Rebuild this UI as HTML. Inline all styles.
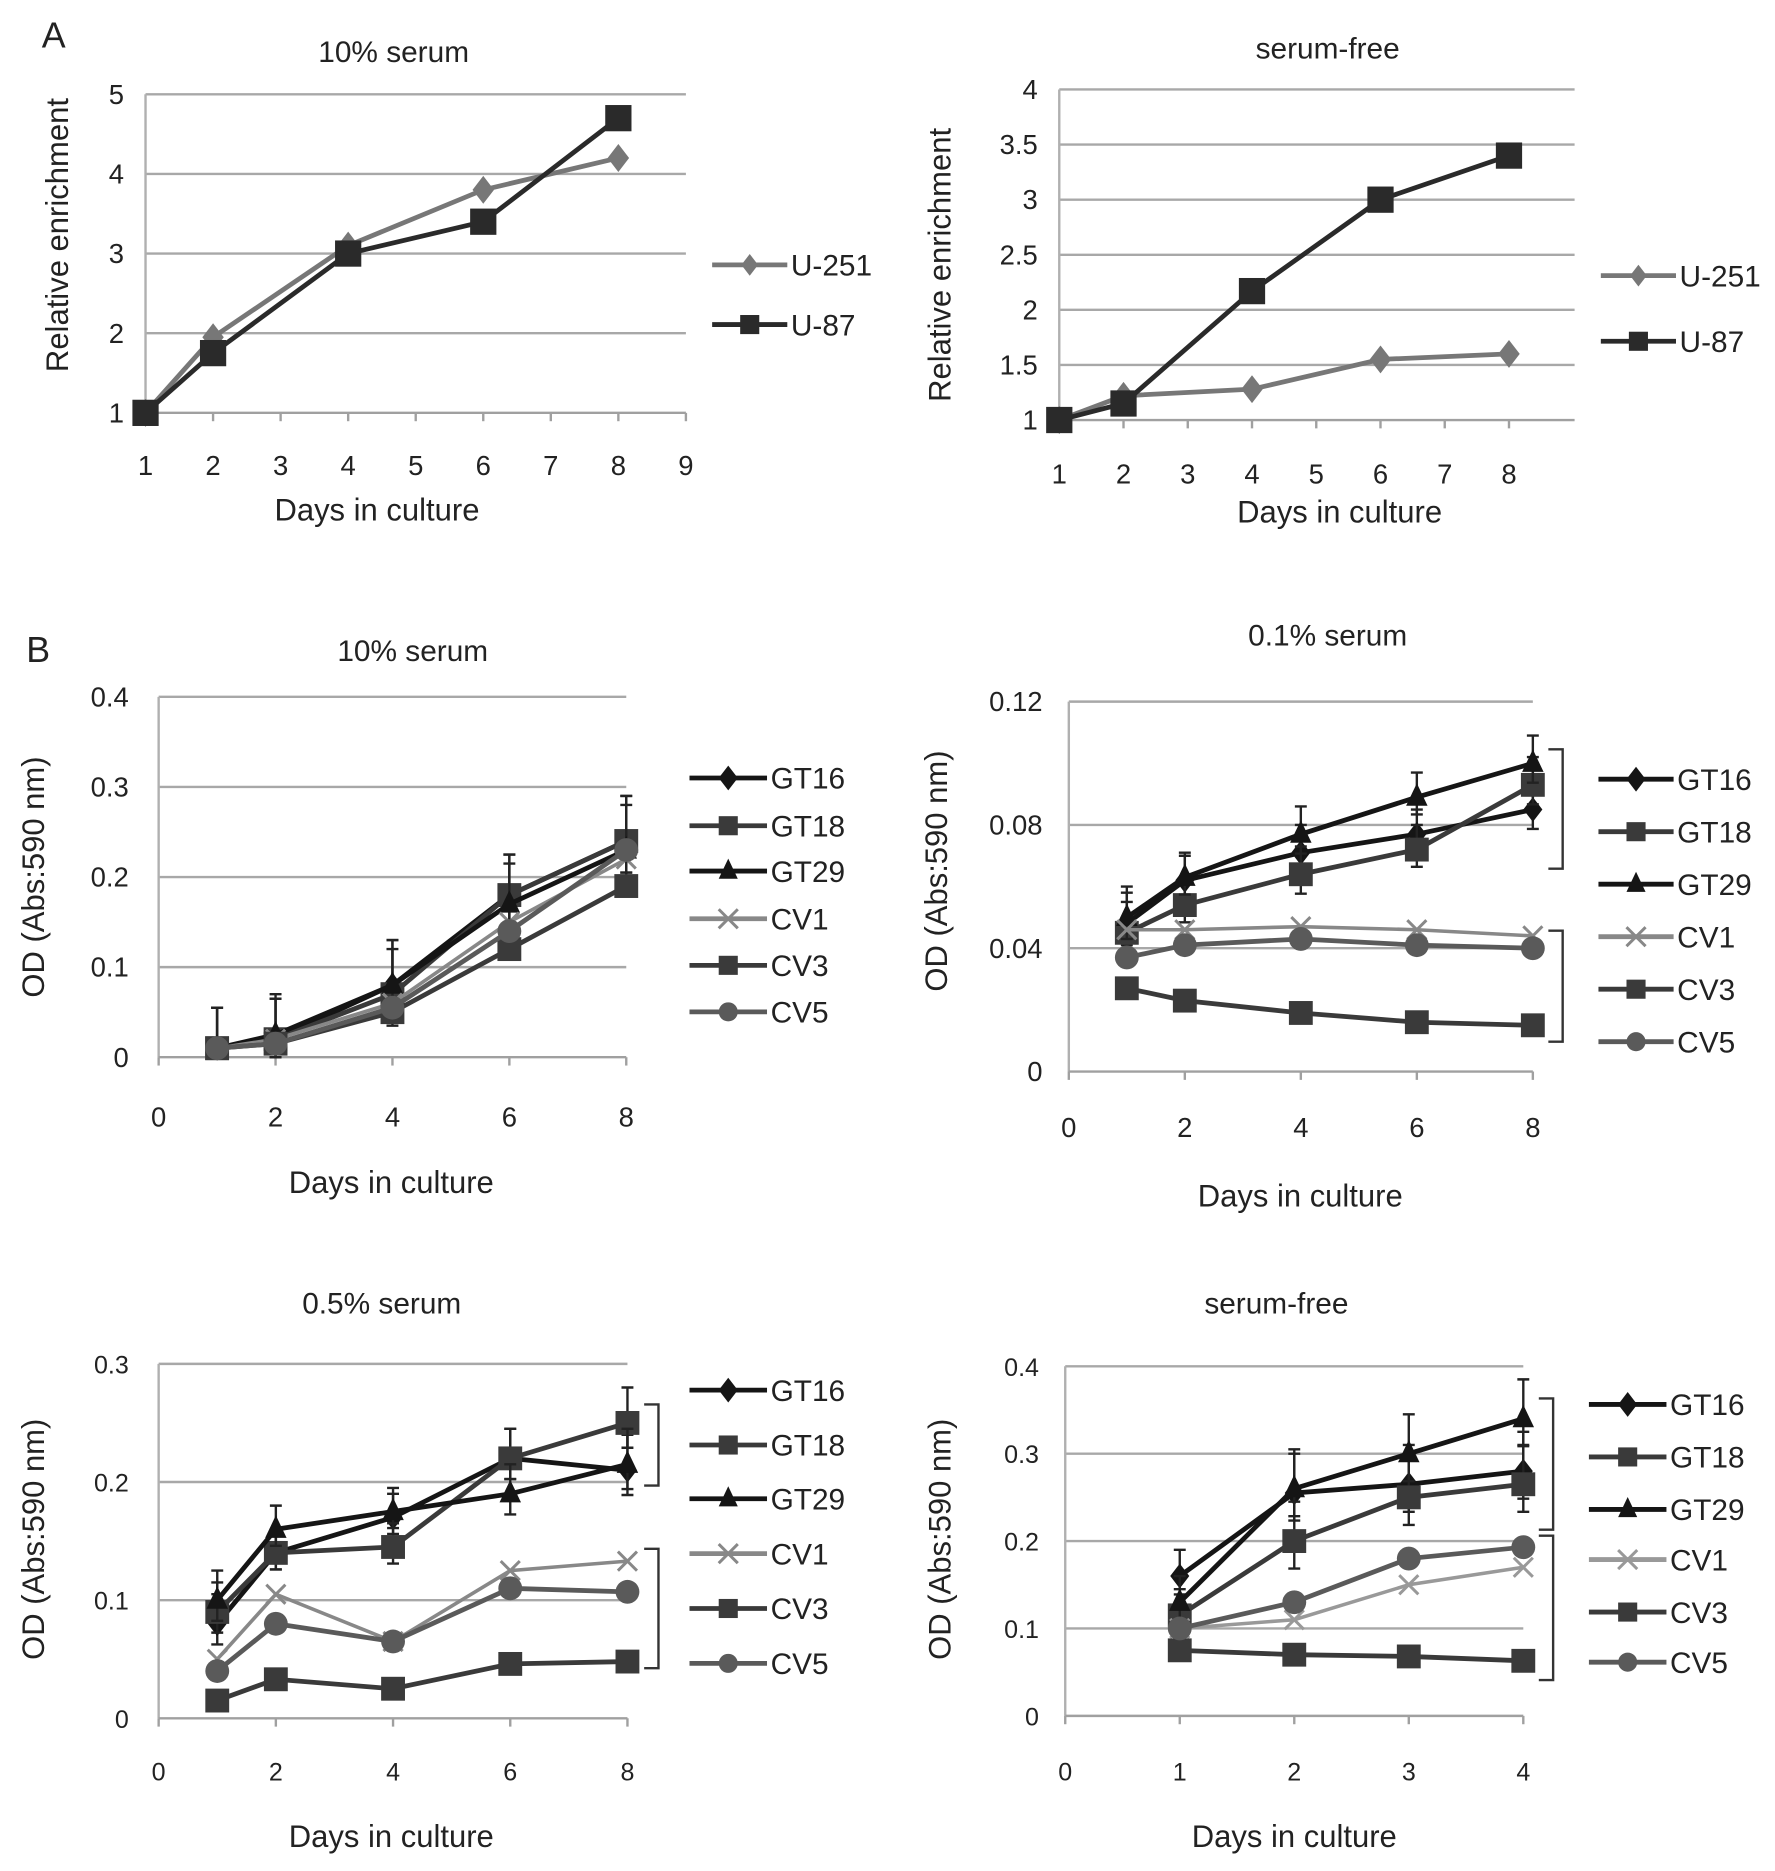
<!DOCTYPE html>
<html><head><meta charset="utf-8"><style>
html,body{margin:0;padding:0;background:#fff}
svg{display:block}
text{font-family:"Liberation Sans",sans-serif;fill:#222}
</style></head><body>
<svg id="fig" width="1775" height="1871" viewBox="0 0 1488 1568" preserveAspectRatio="none" xmlns="http://www.w3.org/2000/svg">
<text x="35" y="40" font-size="30">A</text>
<text x="22" y="555" font-size="30">B</text>
</svg>
<script>
// ---- data ----
const daysA = [1,2,4,6,8];
const a1_U251 = [1,1.95,3.1,3.8,4.2];
const a1_U87 = [1,1.75,3.0,3.4,4.7];
const a2_U251 = [1,1.22,1.28,1.55,1.6];
const a2_U87 = [1,1.15,2.17,3.0,3.4];
const daysB = [1,2,4,6,8];
const b1_GT16=[.01,.02,.08,.18,.24], b1_GT18=[.01,.02,.07,.18,.24], b1_GT29=[.01,.025,.08,.17,.23];
const b1_CV1=[.01,.02,.06,.15,.22], b1_CV3=[.01,.015,.05,.12,.19], b1_CV5=[.01,.015,.055,.14,.23];
const b1_err=[.045,.045,.05,.045,.05];
const b2_GT16=[.048,.062,.071,.077,.085], b2_GT18=[.045,.054,.064,.072,.093], b2_GT29=[.05,.063,.077,.089,.1];
const b2_CV1=[.046,.046,.047,.046,.044], b2_CV3=[.027,.023,.019,.016,.015], b2_CV5=[.037,.041,.043,.041,.04];
const b2_err=[.01,.008,.009,.008,.009];
const b3_GT16=[.08,.14,.17,.22,.21], b3_GT18=[.09,.14,.145,.22,.25], b3_GT29=[.1,.16,.175,.19,.215];
const b3_CV1=[.05,.105,.065,.125,.133], b3_CV3=[.015,.033,.025,.046,.048], b3_CV5=[.04,.08,.065,.11,.107];
const b3_err=[.025,.02,.02,.025,.03];
const daysB4=[1,2,3,4];
const b4_GT16=[.16,.255,.265,.28], b4_GT18=[.115,.2,.25,.265], b4_GT29=[.13,.26,.3,.34];
const b4_CV1=[.1,.11,.15,.17], b4_CV3=[.075,.07,.068,.063], b4_CV5=[.1,.13,.18,.193];
const b4_err=[.03,.045,.045,.045];
const ticksA1y=[1,2,3,4,5], ticksA1x=[1,2,3,4,5,6,7,8,9];
const ticksA2y=[1,1.5,2,2.5,3,3.5,4], ticksA2x=[1,2,3,4,5,6,7,8];
const ticksB1y=[0,0.1,0.2,0.3,0.4], ticksB2y=[0,0.04,0.08,0.12], ticksB3y=[0,0.1,0.2,0.3], ticksB4y=[0,0.1,0.2,0.3,0.4];
const ticksBx=[0,2,4,6,8], ticksB4x=[0,1,2,3,4];

const svg=document.getElementById('fig');
const NS='http://www.w3.org/2000/svg';
function mk(tag,at,txt){const e=document.createElementNS(NS,tag);for(const k in at)e.setAttribute(k,at[k]);if(txt!==undefined)e.textContent=txt;svg.appendChild(e);return e;}

function marker(shape,x,y,s,col,name){
  let e;
  if(shape==='sq'){e=mk('rect',{x:x-s,y:y-s,width:2*s,height:2*s,fill:col});}
  else if(shape==='di'){e=mk('polygon',{points:`${x},${y-s*1.3} ${x+s},${y} ${x},${y+s*1.3} ${x-s},${y}`,fill:col});}
  else if(shape==='tr'){e=mk('polygon',{points:`${x},${y-s*1.3} ${x+s},${y+s*0.8} ${x-s},${y+s*0.8}`,fill:col});}
  else if(shape==='ci'){e=mk('circle',{cx:x,cy:y,r:s,fill:col});}
  else {e=mk('path',{d:`M${x-s} ${y-s}L${x+s} ${y+s}M${x-s} ${y+s}L${x+s} ${y-s}`,stroke:col,'stroke-width':2.5,fill:'none'});}
  
  
}

function chart(c){
  const X=v=>c.x0+(v-c.xmin)/(c.xmax-c.xmin)*(c.x1-c.x0);
  const Y=v=>c.y0+(v-c.ymin)/(c.ymax-c.ymin)*(c.y1-c.y0);
  c.yt.forEach(v=>{
    if(v!==c.ymin){const g=mk('line',{x1:c.x0,x2:c.gx1,y1:Y(v),y2:Y(v),stroke:'#a8a8a8','stroke-width':2});
    }
    const t=mk('text',{x:c.x0-c.ylabOff,y:Y(v)+8,'font-size':c.fs,'text-anchor':'end'},String(v));
    
  });
  const ya=mk('line',{x1:c.x0,x2:c.x0,y1:Y(c.ymin),y2:Y(c.yt[c.yt.length-1]),stroke:'#b0b0b0','stroke-width':2});
  
  const xa=mk('line',{x1:c.x0,x2:c.gx1,y1:Y(c.ymin),y2:Y(c.ymin),stroke:'#a0a0a0','stroke-width':2});
  
  c.xt.forEach(v=>{
    const tk=mk('line',{x1:X(v),x2:X(v),y1:Y(c.ymin),y2:Y(c.ymin)+7,stroke:'#a0a0a0','stroke-width':2});
    
    const t=mk('text',{x:X(v),y:c.xlabY,'font-size':c.fs,'text-anchor':'middle'},String(v));
    
  });
  const ti=mk('text',{x:c.title[1],y:c.title[2],'font-size':25,'text-anchor':'middle'},c.title[0]);
  
  const xt=mk('text',{x:c.xtitle[0],y:c.xtitle[1],'font-size':26,'text-anchor':'middle'},'Days in culture');
  
  const yt=mk('text',{x:0,y:0,'font-size':26,'text-anchor':'middle',transform:`translate(${c.ytitle[1]},${c.ytitle[2]}) rotate(-90)`},c.ytitle[0]);
  
  c.series.forEach((s,i)=>{
    if(c.err && s.eb){
      s.v.forEach((v,j)=>{
        const e=mk('path',{d:`M${X(c.days[j])} ${Y(v)}V${Y(v+c.err[j])}M${X(c.days[j])-5} ${Y(v+c.err[j])}H${X(c.days[j])+5}M${X(c.days[j])} ${Y(v)}V${Y(Math.max(c.ymin,v-c.err[j]*0.7))}M${X(c.days[j])-5} ${Y(Math.max(c.ymin,v-c.err[j]*0.7))}H${X(c.days[j])+5}`,stroke:'#222','stroke-width':2,fill:'none'});
        
      });
    }
    const pts=s.v.map((v,j)=>X(c.days[j])+','+Y(v)).join(' ');
    const pl=mk('polyline',{points:pts,fill:'none',stroke:s.col,'stroke-width':s.w||4});
    
    s.v.forEach((v,j)=>marker(s.shape,X(c.days[j]),Y(v),s.ms,s.col,'point-'+s.name.toLowerCase()));
    const ly=c.leg.ys[i];
    const ll=mk('line',{x1:c.leg.x0,x2:c.leg.x1,y1:ly,y2:ly,stroke:s.col,'stroke-width':4});
    
    marker(s.shape,(c.leg.x0+c.leg.x1)/2,ly,s.lms||8,s.col,'legend-marker');
    const lt=mk('text',{x:c.leg.x1+3,y:ly+9,'font-size':25},s.name);
    
  });
  (c.brackets||[]).forEach(b=>{
    const p=mk('path',{d:`M${b[0]} ${b[1]}H${b[0]+12}V${b[2]}H${b[0]}`,fill:'none',stroke:'#333','stroke-width':2});
    
  });
}
const K='#151515',D='#3a3a3a',G='#5a5a5a',L='#888';
chart({x0:122,x1:575,gx1:575,xmin:1,xmax:9,y0:346,y1:79,ymin:1,ymax:5,yt:ticksA1y,xt:ticksA1x,ylabOff:18,xlabY:398,fs:23,
  title:['10% serum',330,52],xtitle:[316,436],ytitle:['Relative enrichment',57,197],days:daysA,
  series:[{name:'U-251',v:a1_U251,col:'#777',shape:'di',ms:9,lms:7},{name:'U-87',v:a1_U87,col:'#2a2a2a',shape:'sq',ms:11,lms:8}],
  leg:{x0:597,x1:660,ys:[222,272]}});
chart({x0:888,x1:1265,gx1:1320,xmin:1,xmax:8,y0:352,y1:75,ymin:1,ymax:4,yt:ticksA2y,xt:ticksA2x,ylabOff:18,xlabY:405,fs:23,
  title:['serum-free',1113,49],xtitle:[1123,438],ytitle:['Relative enrichment',797,222],days:daysA,
  series:[{name:'U-251',v:a2_U251,col:'#777',shape:'di',ms:9,lms:7},{name:'U-87',v:a2_U87,col:'#2a2a2a',shape:'sq',ms:11,lms:8}],
  leg:{x0:1342,x1:1405,ys:[231,286]}});
function bser(gt16,gt18,gt29,cv1,cv3,cv5,cv1col){return [
  {name:'GT16',v:gt16,col:K,shape:'di',ms:8,eb:1},{name:'GT18',v:gt18,col:D,shape:'sq',ms:10,eb:1},
  {name:'GT29',v:gt29,col:K,shape:'tr',ms:9,eb:1},{name:'CV1',v:cv1,col:cv1col,shape:'x',ms:8,w:3},
  {name:'CV3',v:cv3,col:D,shape:'sq',ms:10},{name:'CV5',v:cv5,col:G,shape:'ci',ms:10}];}
chart({x0:133,x1:525,gx1:525,xmin:0,xmax:8,y0:886,y1:584,ymin:0,ymax:0.4,yt:ticksB1y,xt:ticksBx,ylabOff:25,xlabY:944,fs:23,
  title:['10% serum',346,554],xtitle:[328,1000],ytitle:['OD (Abs:590 nm)',37,735],days:daysB,err:b1_err,
  series:bser(b1_GT16,b1_GT18,b1_GT29,b1_CV1,b1_CV3,b1_CV5,L),leg:{x0:578,x1:643,ys:[652,692,730,770,809,848]}});
chart({x0:896,x1:1285,gx1:1285,xmin:0,xmax:8,y0:898,y1:588,ymin:0,ymax:0.12,yt:ticksB2y,xt:ticksBx,ylabOff:22,xlabY:953,fs:23,
  title:['0.1% serum',1113,541],xtitle:[1090,1011],ytitle:['OD (Abs:590 nm)',794,730],days:daysB,err:b2_err,
  series:bser(b2_GT16,b2_GT18,b2_GT29,b2_CV1,b2_CV3,b2_CV5,L),leg:{x0:1340,x1:1403,ys:[653,697,741,785,829,873]},
  brackets:[[1298,628,728],[1298,780,873]]});
chart({x0:133,x1:526,gx1:526,xmin:0,xmax:8,y0:1440,y1:1143,ymin:0,ymax:0.3,yt:ticksB3y,xt:ticksBx,ylabOff:25,xlabY:1492,fs:21,
  title:['0.5% serum',320,1101],xtitle:[328,1548],ytitle:['OD (Abs:590 nm)',37,1290],days:daysB,err:b3_err,
  series:bser(b3_GT16,b3_GT18,b3_GT29,b3_CV1,b3_CV3,b3_CV5,L),leg:{x0:578,x1:643,ys:[1165,1211,1256,1302,1348,1394]},
  brackets:[[540,1177,1245],[540,1298,1398]]});
chart({x0:893,x1:1277,gx1:1277,xmin:0,xmax:4,y0:1438,y1:1145,ymin:0,ymax:0.4,yt:ticksB4y,xt:ticksB4x,ylabOff:22,xlabY:1492,fs:21,
  title:['serum-free',1070,1101],xtitle:[1085,1548],ytitle:['OD (Abs:590 nm)',797,1290],days:daysB4,err:b4_err,
  series:bser(b4_GT16,b4_GT18,b4_GT29,b4_CV1,b4_CV3,b4_CV5,'#999'),leg:{x0:1332,x1:1397,ys:[1177,1221,1265,1307,1351,1393]},
  brackets:[[1290,1172,1282],[1290,1287,1408]]});
</script>
</body></html>
